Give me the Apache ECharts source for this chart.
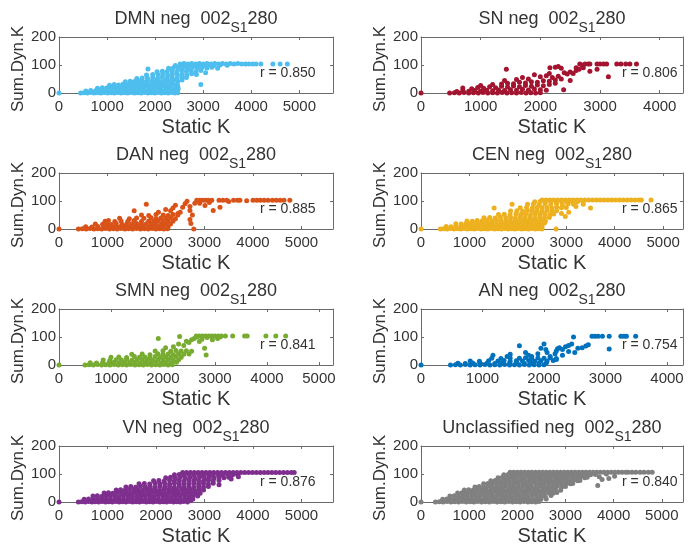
<!DOCTYPE html>
<html><head><meta charset="utf-8">
<script src="https://cdn.jsdelivr.net/npm/echarts@6/dist/echarts.min.js"></script>
<style>html,body{margin:0;padding:0;background:#fff}#c{width:700px;height:553px}</style>
</head><body><div id="c"></div>
<script>
const panelNames = ['DMN','SN','DAN','CEN','SMN','AN','VN','Unclassified'];
const rValues = ['0.850','0.806','0.885','0.865','0.841','0.754','0.876','0.840'];
const xMaxes = [5700,4390,5650,5410,5270,4260,5650,5440];
const xTickValues = [0,1000,2000,3000,4000,5000];
const yTickValues = [0,100,200];
const colors = ['#4DBEEE','#A2142F','#D95319','#EDB120','#77AC30','#0072BD','#7E2F8E','#808080'];

const dmnPoints = [
[0,0],[450,0],[520,1],[590,0],[660,2],[730,0],[800,1],[870,0],[940,2],[1010,0],[1080,1],[1150,0],[1220,2],[1290,0],[1360,1],[1430,0],[1500,2],[1570,0],[1640,1],[1710,0],[1780,2],[1850,0],[1920,1],[1990,0],[2060,2],[2130,0],[2200,1],[2270,0],[2340,2],[2410,0],[2470,1],
[560,7],[660,9],[760,8],[860,10],[950,8],[1040,11],[1130,9],[1220,12],[1310,10],[1400,12],[1490,9],[1580,11],[1670,10],[1760,12],[1850,9],[1940,11],[2030,10],[2120,12],[2210,9],[2300,11],[2390,10],[2460,13],
[800,17],[900,19],[990,18],[1080,21],[1160,18],[1240,20],[1330,19],[1420,22],[1510,19],[1600,21],[1690,20],[1780,22],[1870,19],[1960,21],[2050,20],[2140,23],[2230,20],[2320,22],[2420,19],[2470,24],
[1050,28],[1150,30],[1240,29],[1330,31],[1420,28],[1500,32],[1580,30],[1660,31],[1740,29],[1830,32],[1920,30],[2010,33],[2100,30],[2190,32],[2280,31],[2370,33],[2460,30],
[1380,40],[1480,42],[1570,41],[1660,43],[1750,40],[1840,44],[1930,42],[2020,43],[2110,41],[2200,44],[2290,42],[2380,45],[2470,42],[2560,46],
[1620,52],[1730,54],[1840,53],[1950,55],[2050,52],[2150,56],[2250,54],[2350,55],[2450,53],[2550,57],[2650,55],
[1850,86],[1820,64],[1950,66],[2060,65],[2160,67],[2260,64],[2360,68],[2460,66],[2560,67],[2660,65],[2760,69],[2860,66],
[2040,76],[2150,78],[2250,77],[2350,79],[2450,76],[2550,80],[2650,78],[2750,79],[2850,77],[2950,80],[3050,72],
[2280,88],[2380,90],[2480,89],[2580,91],[2680,88],[2780,92],[2880,90],[2980,91],[3080,89],[3180,92],[3300,88],
[2420,98],[2520,99],[2620,97],[2720,100],[2820,98],[2920,100],[3020,99],[3120,101],[3220,98],[3350,100],[3500,99],
[2520,104],[2600,105],[2680,104],[2760,105],[2840,104],[2920,105],[3000,104],[3080,105],[3160,104],[3240,105],[3320,104],[3400,105],[3480,104],[3560,105],[3640,104],[3720,105],[3800,104],[3880,104],[3950,104],[4030,104],[4100,104],[4200,104],[4450,104],[4600,104],[4750,104],
[2950,30],[2480,15],[2430,6]
];

const snPoints = [
[0,0],[480,0],[560,1],[640,0],[720,2],[800,0],[880,1],[960,0],[1040,2],[1120,0],[1200,1],[1280,0],[1360,2],[1440,0],[1520,1],[1600,0],[1680,2],[1760,0],[1840,1],[1920,0],[2000,1],
[600,5],[700,8],[800,6],[900,9],[1000,7],[1100,10],[1200,8],[1300,11],[1400,9],[1500,12],[1600,10],[1700,13],[1800,11],[1900,14],[2000,12],[2100,10],
[700,18],[850,15],[950,20],[1050,17],[1150,22],[1250,19],[1350,24],[1450,21],[1550,25],[1650,22],[1750,27],[1850,24],[1950,29],[2050,26],[2150,30],
[1000,27],[1200,30],[1350,32],[1450,35],[1550,33],[1650,38],[1750,36],[1850,40],[1950,38],[2050,44],[2150,42],[2250,46],
[1430,85],[1400,45],[1600,48],[1700,55],[1800,50],[1900,65],[2000,58],[2100,62],[2200,55],[2300,60],
[2160,90],[2250,92],[2300,95],[2350,88],[2150,70],[2400,72],[2390,12],[2450,68],[2500,75],[2550,70],[2600,80],[2600,90],[2650,85],[2720,90],[2830,78],
[2660,104],[2700,100],[2750,104],[2800,104],[2830,104],[2950,104],[3000,104],[3060,104],[3110,104],[3140,58],[3280,104],[3350,104],[3430,104],[3500,104],[3610,104],[2950,85],[2500,45],[2350,50],[2250,35]
];

const danPoints = [
[0,0],[400,0],[480,1],[560,0],[640,2],[720,0],[800,1],[880,0],[960,2],[1040,0],[1120,1],[1200,0],[1280,2],[1360,0],[1440,1],[1520,0],[1600,2],[1680,0],[1760,1],[1840,0],[1920,2],[2000,0],[2080,1],[2160,0],[2240,1],
[550,8],[680,7],[800,9],[920,8],[1000,10],[1100,7],[1180,9],[1260,8],[1350,10],[1450,7],[1550,9],[1650,8],[1750,10],[1850,7],[1950,9],[2050,8],[2150,10],[2250,7],
[750,18],[900,17],[1000,19],[1080,16],[1180,20],[1300,17],[1400,19],[1500,18],[1600,20],[1700,17],[1800,19],[1900,18],[2000,20],[2100,17],[2200,19],[2300,18],
[950,28],[1020,30],[1150,27],[1280,29],[1420,28],[1550,30],[1700,27],[1850,29],[1950,28],[2050,30],[2150,27],[2250,29],[2350,28],
[1250,38],[1450,37],[1600,39],[1750,38],[1900,40],[2000,37],[2100,39],[2200,38],[2300,40],[2400,37],
[1700,50],[1850,48],[2000,52],[2150,50],[2250,48],[2350,52],[2450,50],
[1550,65],[1800,88],[2050,60],[2200,70],[2300,65],[2350,75],[2400,85],[2450,55],[2500,60],[2550,78],[2600,90],[2640,99],[2700,80],[2700,34],[2700,66],[2720,20],[2750,50],[2780,0],[2800,92],
[2840,103],[2900,103],[2960,103],[3020,103],[3080,103],[3150,103],[3300,103],[3380,103],[3460,103],[3600,103],[3680,103],[3730,103],[3870,101],[4000,103],[4080,103],[4150,103],[4230,103],[4310,103],[4400,103],[4480,103],[4560,103],[4640,103],[4760,103],
[3010,84],[3180,66],[3320,78],[2900,92],[3100,95],[3500,98]
];

const cenPoints = [
[0,0],[400,0],[470,1],[540,0],[610,2],[680,0],[750,1],[820,0],[890,2],[960,0],[1030,1],[1100,0],[1170,2],[1240,0],[1310,1],[1380,0],[1450,2],[1520,0],[1590,1],[1660,0],[1730,2],[1800,0],[1870,1],[1940,0],[2010,2],[2080,0],[2150,1],[2220,0],[2290,2],[2360,0],[2430,1],[2500,0],
[520,9],[620,8],[720,10],[820,9],[900,8],[980,10],[1060,9],[1140,11],[1220,8],[1300,10],[1380,9],[1460,11],[1540,8],[1620,10],[1700,9],[1780,11],[1860,8],[1940,10],[2020,9],[2100,11],[2180,8],[2260,10],[2340,9],[2420,11],[2500,9],
[720,19],[830,18],[930,20],[1020,19],[1110,21],[1200,18],[1290,20],[1380,19],[1470,21],[1560,18],[1650,20],[1740,19],[1830,21],[1920,18],[2010,20],[2100,19],[2190,21],[2280,18],[2370,20],[2460,19],[2550,21],
[950,29],[1060,28],[1160,30],[1260,29],[1360,31],[1460,28],[1560,30],[1660,29],[1760,31],[1850,28],[1940,30],[2030,29],[2120,31],[2210,28],[2300,30],[2390,29],[2480,31],[2570,28],
[1300,40],[1420,41],[1530,39],[1640,42],[1750,40],[1850,41],[1950,39],[2050,42],[2150,40],[2250,41],[2350,39],[2450,42],[2550,40],[2650,41],
[1600,52],[1720,53],[1840,51],[1960,54],[2060,52],[2160,53],[2260,51],[2360,54],[2460,52],[2560,53],[2660,51],[2740,54],
[1850,64],[1980,65],[2100,63],[2200,66],[2300,64],[2400,65],[2500,63],[2600,66],[2700,64],[2800,65],
[2050,76],[2180,77],[2300,75],[2400,78],[2500,76],[2600,77],[2700,75],[2800,78],[2900,76],[3000,77],
[2200,88],[2320,89],[2440,87],[2560,90],[2680,88],[2800,89],[2920,87],[3040,90],[3150,88],
[2350,97],[2460,98],[2570,96],[2680,99],[2790,97],[2900,98],[3010,96],[3120,99],[3230,97],[3350,98],
[2500,104],[2580,104],[2660,104],[2740,104],[2820,104],[2900,104],[2980,104],[3060,104],[3140,104],[3220,104],[3300,104],[3380,104],[3460,104],[3540,104],[3620,104],[3700,104],[3780,104],[3860,104],[3940,104],[4020,104],[4100,104],[4180,104],[4260,104],[4340,104],[4420,104],[4500,104],[4550,104],[4750,104],
[1510,75],[1880,88],[2790,0],[2980,45],[3050,60],[3200,80],[3500,75],[3350,88],[2900,55]
];

const smnPoints = [
[0,0],[500,0],[580,1],[660,0],[740,2],[820,0],[900,1],[980,0],[1060,2],[1140,0],[1220,1],[1300,0],[1380,2],[1460,0],[1540,1],[1620,0],[1700,2],[1780,0],[1860,1],[1940,0],[2020,2],[2100,0],[2180,1],
[600,8],[720,7],[840,9],[960,8],[1060,10],[1160,7],[1260,9],[1360,8],[1460,10],[1560,7],[1660,9],[1760,8],[1860,10],[1960,7],[2060,9],[2160,8],[2260,10],
[850,18],[980,17],[1100,19],[1200,18],[1300,20],[1400,17],[1500,19],[1600,18],[1700,20],[1800,17],[1900,19],[2000,18],[2100,20],[2200,17],[2300,19],
[1000,28],[1150,29],[1300,27],[1450,30],[1550,28],[1650,29],[1750,27],[1850,30],[1950,28],[2050,29],[2150,27],[2250,30],[2350,28],
[1400,38],[1600,39],[1750,37],[1900,40],[2000,38],[2100,39],[2200,37],[2300,40],[2400,38],[2500,39],
[1850,50],[2000,51],[2150,49],[2250,52],[2350,50],[2450,51],[2550,49],
[1910,95],[2050,62],[2200,65],[2320,102],[2300,75],[2400,70],[2450,85],[2500,80],[2550,90],[2600,95],[2650,100],[2700,84],[2800,60],[2830,36],[2750,92],[2850,98],
[2640,104],[2700,104],[2760,104],[2820,104],[2880,104],[2940,104],[3000,104],[3060,104],[3120,104],[3200,104],[3340,104],[3570,104],[3620,104],[3980,104],[4170,104],[4360,104],
[2950,90],[3050,95],[3100,100]
];

const anPoints = [
[0,0],[480,0],[560,1],[640,0],[720,2],[800,0],[880,1],[960,0],[1040,2],[1120,0],[1200,1],[1280,0],[1360,2],[1440,0],[1520,1],[1600,0],[1680,2],[1760,0],[1840,1],[1920,0],[2000,1],
[600,6],[720,5],[840,7],[960,6],[1080,8],[1200,5],[1320,7],[1440,6],[1560,8],[1680,5],[1800,7],[1920,6],[2040,8],
[800,14],[950,13],[1100,15],[1250,14],[1350,16],[1450,13],[1550,15],[1650,14],[1750,16],[1850,13],[1950,15],[2050,14],[2150,16],
[1150,24],[1300,23],[1450,25],[1600,24],[1700,26],[1800,23],[1900,25],[2000,24],[2100,26],[2200,23],
[1170,35],[1400,30],[1450,38],[1600,69],[1700,45],[1750,35],[1800,30],[1900,40],[1950,60],[2000,75],[2030,55],[2050,45],[2100,30],[2180,40],[2200,50],[2220,58],[2250,62],[2300,55],[2350,65],[2400,70],[2400,48],[2480,100],[2550,60],[2620,62],[2680,68],[2720,72],[2780,103],[2830,103],[2880,103],[2950,103],[3060,103],[3060,57],[3250,103],[3300,103],[3340,103],[3490,103],[2200,20],[2300,35],[2450,75],[2500,45]
];

const vnPoints = [
[0,0],[400,0],[470,1],[540,0],[610,2],[680,0],[750,1],[820,0],[890,2],[960,0],[1030,1],[1100,0],[1170,2],[1240,0],[1310,1],[1380,0],[1450,2],[1520,0],[1590,1],[1660,0],[1730,2],[1800,0],[1870,1],[1940,0],[2010,2],[2080,0],[2150,1],[2220,0],[2290,2],[2360,0],[2430,1],[2500,0],[2570,2],[2650,0],[2720,5],
[520,10],[610,11],[700,9],[790,12],[880,10],[970,11],[1060,9],[1150,12],[1240,10],[1330,11],[1420,9],[1510,12],[1600,10],[1690,11],[1780,9],[1870,12],[1960,10],[2050,11],[2140,9],[2230,12],[2320,10],[2410,11],[2500,9],[2590,12],[2680,10],[2760,11],
[700,21],[790,22],[880,20],[970,23],[1060,21],[1150,22],[1240,20],[1330,23],[1420,21],[1510,22],[1600,20],[1690,23],[1780,21],[1870,22],[1960,20],[2050,23],[2140,21],[2230,22],[2320,20],[2410,23],[2500,21],[2590,22],[2680,20],[2770,23],[2860,21],
[930,32],[1020,33],[1110,31],[1200,34],[1290,32],[1380,33],[1470,31],[1560,34],[1650,32],[1740,33],[1830,31],[1920,34],[2010,32],[2100,33],[2190,31],[2280,34],[2370,32],[2460,33],[2550,31],[2640,34],[2730,32],[2820,33],[2910,31],
[1180,43],[1270,44],[1360,42],[1450,45],[1540,43],[1630,44],[1720,42],[1810,45],[1900,43],[1990,44],[2080,42],[2170,45],[2260,43],[2350,44],[2440,42],[2530,45],[2620,43],[2710,44],[2800,42],[2890,45],[2980,43],
[1380,54],[1480,55],[1580,53],[1680,56],[1780,54],[1880,55],[1980,53],[2080,56],[2180,54],[2280,55],[2380,53],[2480,56],[2580,54],[2680,55],[2780,53],[2880,56],[2980,54],[3080,55],
[1650,65],[1760,66],[1870,64],[1980,67],[2080,65],[2180,66],[2280,64],[2380,67],[2480,65],[2580,66],[2680,64],[2780,67],[2880,65],[2980,66],[3080,64],[3180,67],
[1950,76],[2060,77],[2170,75],[2280,78],[2380,76],[2480,77],[2580,75],[2680,78],[2780,76],[2880,77],[2980,75],[3080,78],[3180,76],[3300,77],
[2200,87],[2300,88],[2400,86],[2500,89],[2600,87],[2700,88],[2800,86],[2900,89],[3000,87],[3100,88],[3200,86],[3300,89],[3400,87],[3500,88],
[2380,97],[2480,98],[2580,96],[2680,99],[2780,97],[2880,98],[2980,96],[3080,99],[3180,97],[3280,98],[3380,96],[3480,99],[3580,97],[3680,98],
[2550,105],[2630,105],[2710,105],[2790,105],[2870,105],[2950,105],[3030,105],[3110,105],[3190,105],[3270,105],[3350,105],[3430,105],[3510,105],[3590,105],[3670,105],[3750,105],[3830,105],[3910,105],[3990,105],[4070,105],[4150,105],[4230,105],[4310,105],[4390,105],[4470,105],[4550,105],[4630,105],[4710,105],[4790,105],[4850,105],
[3300,62],[3550,82],[3700,90]
];

const unclassifiedPoints = [
[0,0],[300,0],[380,1],[460,0],[540,2],[620,0],[700,1],[780,0],[860,2],[940,0],[1020,1],[1100,0],[1180,2],[1260,0],[1340,1],[1420,0],[1500,2],[1580,0],[1660,1],[1740,0],[1820,2],[1900,0],[1980,1],[2060,0],[2140,2],[2220,0],[2300,1],[2380,0],[2450,2],
[450,10],[535,11],[620,9],[705,12],[790,10],[875,11],[960,9],[1045,12],[1130,10],[1215,11],[1300,9],[1385,12],[1470,10],[1555,11],[1640,9],[1725,12],[1810,10],[1895,11],[1980,9],[2065,12],[2150,10],[2235,11],[2320,9],[2405,12],[2490,10],[2600,11],
[600,21],[690,22],[780,20],[870,23],[960,21],[1050,22],[1140,20],[1230,23],[1320,21],[1410,22],[1500,20],[1590,23],[1680,21],[1770,22],[1860,20],[1950,23],[2040,21],[2130,22],[2220,20],[2310,23],[2400,21],[2490,22],[2580,20],[2700,23],
[760,32],[850,33],[940,31],[1030,34],[1120,32],[1210,33],[1300,31],[1390,34],[1480,32],[1570,33],[1660,31],[1750,34],[1840,32],[1930,33],[2020,31],[2110,34],[2200,32],[2290,33],[2380,31],[2470,34],[2560,32],[2650,33],[2740,31],[2820,34],
[900,43],[990,44],[1080,42],[1170,45],[1260,43],[1350,44],[1440,42],[1530,45],[1620,43],[1710,44],[1800,42],[1890,45],[1980,43],[2070,44],[2160,42],[2250,45],[2340,43],[2430,44],[2520,42],[2610,45],[2700,43],[2790,44],[2900,42],
[1120,54],[1210,55],[1300,53],[1390,56],[1480,54],[1570,55],[1660,53],[1750,56],[1840,54],[1930,55],[2020,53],[2110,56],[2200,54],[2290,55],[2380,53],[2470,56],[2560,54],[2650,55],[2740,53],[2830,56],[2920,54],[3000,55],
[1300,65],[1390,66],[1480,64],[1570,67],[1660,65],[1750,66],[1840,64],[1930,67],[2020,65],[2110,66],[2200,64],[2290,67],[2380,65],[2470,66],[2560,64],[2650,67],[2740,65],[2830,66],[2920,64],[3010,67],[3100,65],[3150,66],
[1450,76],[1540,77],[1630,75],[1720,78],[1810,76],[1900,77],[1990,75],[2080,78],[2170,76],[2260,77],[2350,75],[2440,78],[2530,76],[2620,77],[2710,75],[2800,78],[2890,76],[2980,77],[3070,75],[3160,78],[3250,76],[3300,77],
[1600,87],[1690,88],[1780,86],[1870,89],[1960,87],[2050,88],[2140,86],[2230,89],[2320,87],[2410,88],[2500,86],[2590,89],[2680,87],[2770,88],[2860,86],[2950,89],[3040,87],[3130,88],[3220,86],[3310,89],[3400,87],[3450,88],
[1720,97],[1810,98],[1900,96],[1990,99],[2080,97],[2170,98],[2260,96],[2350,99],[2440,97],[2530,98],[2620,96],[2710,99],[2800,97],[2890,98],[2980,96],[3070,99],[3160,97],[3250,98],[3340,96],[3430,99],[3520,97],[3620,98],
[1850,106],[1925,106],[2000,106],[2075,106],[2150,106],[2225,106],[2300,106],[2375,106],[2450,106],[2525,106],[2600,106],[2675,106],[2750,106],[2825,106],[2900,106],[2975,106],[3050,106],[3125,106],[3200,106],[3275,106],[3350,106],[3425,106],[3500,106],[3575,106],[3650,106],[3725,106],[3800,106],[3875,106],[3950,106],[4025,106],[4100,106],[4175,106],[4250,106],[4300,106],[4380,106],[4460,106],[4550,106],[4630,106],[4720,106],[4800,106],
[3670,59],[3900,84],[3760,80],[4020,92],[3850,100],[3700,90]
];

const panelPoints = [dmnPoints, snPoints, danPoints, cenPoints, smnPoints, anPoints, vnPoints, unclassifiedPoints];

// layout (pixels)
const colLeft = [59, 421];
const colWidth = [274, 262];
const rowTop = [37, 173, 309, 446];
const boxH = 56;
const FONT = '"Liberation Sans", Arial, Helvetica, sans-serif';
const TXT = '#333333';
const AX = '#6a6a6a';

const grids = [], xAxes = [], yAxes = [], series = [], titles = [], graphics = [];
panelNames.forEach((name, i) => {
  const col = i % 2, row = Math.floor(i / 2);
  const left = colLeft[col], top = rowTop[row], w = colWidth[col];
  grids.push({ left: left, top: top, width: w, height: boxH, show: false });
  const xBase = {
    gridIndex: i, type: 'value', min: 0, max: xMaxes[i], interval: 1000,
    splitLine: { show: false },
    axisLine: { show: true, onZero: false, lineStyle: { color: AX, width: 1 } },
    axisTick: { show: true, inside: true, length: 3, lineStyle: { color: AX } }
  };
  xAxes.push(Object.assign({}, xBase, {
    position: 'bottom',
    name: 'Static K', nameLocation: 'middle', nameGap: 24,
    nameTextStyle: { fontSize: 20, color: TXT, fontFamily: FONT },
    axisLabel: { show: true, margin: 6, fontSize: 15, color: TXT, fontFamily: FONT, showMaxLabel: false,
      formatter: v => (xTickValues.indexOf(v) >= 0 ? String(v) : '') }
  }));
  xAxes.push(Object.assign({}, xBase, { position: 'top', axisLabel: { show: false } }));
  const yBase = {
    gridIndex: i, type: 'value', min: 0, max: 200, interval: 100,
    splitLine: { show: false },
    axisLine: { show: true, onZero: false, lineStyle: { color: AX, width: 1 } },
    axisTick: { show: true, inside: true, length: 3, lineStyle: { color: AX } }
  };
  yAxes.push(Object.assign({}, yBase, {
    position: 'left',
    name: 'Sum.Dyn.K', nameLocation: 'middle', nameGap: 27, nameRotate: 90,
    nameTextStyle: { fontSize: 17, color: TXT, fontFamily: FONT, padding: [0, 8, 0, 0] },
    axisLabel: { show: true, margin: 3, fontSize: 15, color: TXT, fontFamily: FONT,
      formatter: v => (yTickValues.indexOf(v) >= 0 ? String(v) : '') }
  }));
  yAxes.push(Object.assign({}, yBase, { position: 'right', axisLabel: { show: false } }));
  series.push({
    type: 'scatter', xAxisIndex: 2 * i, yAxisIndex: 2 * i,
    data: panelPoints[i], symbol: 'circle', symbolSize: 5,
    itemStyle: { color: colors[i], opacity: 1 },
    silent: true, animation: false
  });
  titles.push({
    text: '{m|' + name + ' neg  002}{s|S1}{m|280}',
    left: left + w / 2, top: top - 27, textAlign: 'center', padding: 0,
    textStyle: {
      fontWeight: 'normal',
      rich: {
        m: { fontSize: 18, fontWeight: 'normal', fontFamily: FONT, color: TXT, lineHeight: 18, verticalAlign: 'top' },
        s: { fontSize: 14, fontWeight: 'normal', fontFamily: FONT, color: TXT, lineHeight: 14, verticalAlign: 'top', padding: [11, 0, 0, 0] }
      }
    }
  });
  graphics.push({
    type: 'text', left: left + 201, top: top + 29, silent: true,
    style: { text: 'r = ' + rValues[i], fontSize: 14, fontFamily: FONT, fill: TXT }
  });
});

const chart = echarts.init(document.getElementById('c'), null, { renderer: 'canvas' });
chart.setOption({
  animation: false,
  backgroundColor: '#ffffff',
  title: titles,
  grid: grids,
  xAxis: xAxes,
  yAxis: yAxes,
  series: series,
  graphic: graphics
});
</script>
</body></html>
